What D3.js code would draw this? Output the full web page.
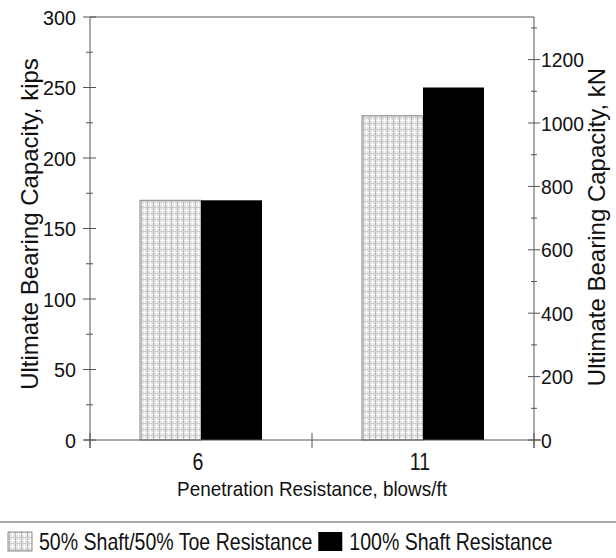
<!DOCTYPE html>
<html>
<head>
<meta charset="utf-8">
<script src="https://cdn.jsdelivr.net/npm/d3@7"></script>
<style>
  html, body { margin: 0; padding: 0; background: #fff; }
  svg { display: block; font-family: "Liberation Sans", Arial, sans-serif; }
</style>
</head>
<body>
<svg id="chart" width="616" height="558"></svg>
<script>
// Penetration resistance categories (blows/ft)
const categories = ["6", "11"];
// Series names as shown in the legend
const seriesNames = ["50% Shaft/50% Toe Resistance", "100% Shaft Resistance"];
// Ultimate bearing capacity, kips
const halfShaftHalfToe = [170, 230];
const fullShaft = [170, 250];
// Axis tick values
const kipsTicks = [0, 50, 100, 150, 200, 250, 300];
const kipsMinorTicks = [25, 75, 125, 175, 225, 275];
const kNTicks = [0, 200, 400, 600, 800, 1000, 1200];
const kNMinorTicks = [100, 300, 500, 700, 900, 1100, 1300];
const KN_PER_KIP = 4.448;

const svg = d3.select("#chart");
const plotLeft = 90, plotRight = 534, plotTop = 17, plotBottom = 440;
const lineColor = "#555555";

// Slightly condensed horizontal text
function condensedText(parent, x, y, sx, size, anchor, str) {
  return parent.append("text")
    .attr("transform", `translate(${x},${y}) scale(${sx},1)`)
    .attr("text-anchor", anchor).attr("font-size", size).attr("fill", "#111")
    .text(str);
}

// Hatched fill: a fine light-grey plaid
const defs = svg.append("defs");
const pat = defs.append("pattern").attr("id", "plaid")
  .attr("patternUnits", "userSpaceOnUse").attr("width", 6).attr("height", 6);
pat.append("rect").attr("width", 6).attr("height", 6).attr("fill", "#e2e2e2");
pat.append("rect").attr("x", 0).attr("y", 0).attr("width", 1).attr("height", 6).attr("fill", "#ffffff");
pat.append("rect").attr("x", 0).attr("y", 0).attr("width", 6).attr("height", 1).attr("fill", "#ffffff");
pat.append("rect").attr("x", 3).attr("y", 0).attr("width", 1).attr("height", 6).attr("fill", "#b8b8b8");
pat.append("rect").attr("x", 0).attr("y", 3).attr("width", 6).attr("height", 1).attr("fill", "#cccccc");

const x0 = d3.scaleBand().domain(categories).range([plotLeft, plotRight]).padding(0);
const x1 = d3.scaleBand().domain(seriesNames).range([0, x0.bandwidth()])
  .paddingInner(0).paddingOuter(0.82);
const yKips = d3.scaleLinear().domain([0, 300]).range([plotBottom, plotTop]);
const yKN = d3.scaleLinear().domain([0, 300 * KN_PER_KIP]).range([plotBottom, plotTop]);

const fills = ["url(#plaid)", "#000000"];
const seriesValues = [halfShaftHalfToe, fullShaft];

// Bars
const groups = svg.append("g").selectAll("g").data(categories).join("g")
  .attr("transform", d => `translate(${x0(d)},0)`);
groups.each(function (cat, ci) {
  const g = d3.select(this);
  seriesNames.forEach((s, si) => {
    const v = seriesValues[si][ci];
    g.append("rect")
      .attr("x", x1(s)).attr("width", x1.bandwidth())
      .attr("y", yKips(v)).attr("height", yKips(0) - yKips(v))
      .attr("fill", fills[si])
      .attr("stroke", si === 0 ? "#8a8a8a" : "none")
      .attr("stroke-width", 1);
  });
});

// Frame top
svg.append("line").attr("x1", plotLeft).attr("x2", plotRight).attr("y1", plotTop).attr("y2", plotTop)
  .attr("stroke", lineColor).attr("stroke-width", 1);

// Left axis (kips)
const axL = svg.append("g").attr("stroke", lineColor);
axL.append("line").attr("x1", plotLeft).attr("x2", plotLeft).attr("y1", plotTop).attr("y2", plotBottom + 8);
axL.selectAll("line.maj").data(kipsTicks).join("line").attr("class", "maj")
  .attr("x1", plotLeft - 7).attr("x2", plotLeft + 6).attr("y1", d => yKips(d)).attr("y2", d => yKips(d));
axL.selectAll("line.min").data(kipsMinorTicks).join("line").attr("class", "min")
  .attr("x1", plotLeft - 4).attr("x2", plotLeft + 3).attr("y1", d => yKips(d)).attr("y2", d => yKips(d));
const gL = svg.append("g");
kipsTicks.forEach(d => condensedText(gL, plotLeft - 14, yKips(d) + 7.5, 0.94, 21, "end", d));

// Right axis (kN)
const axR = svg.append("g").attr("stroke", lineColor);
axR.append("line").attr("x1", plotRight).attr("x2", plotRight).attr("y1", plotTop).attr("y2", plotBottom + 8);
axR.selectAll("line.maj").data(kNTicks).join("line").attr("class", "maj")
  .attr("x1", plotRight - 6).attr("x2", plotRight + 6).attr("y1", d => yKN(d)).attr("y2", d => yKN(d));
axR.selectAll("line.min").data(kNMinorTicks).join("line").attr("class", "min")
  .attr("x1", plotRight - 3).attr("x2", plotRight + 3).attr("y1", d => yKN(d)).attr("y2", d => yKN(d));
const gR = svg.append("g");
kNTicks.forEach(d => condensedText(gR, plotRight + 7, yKN(d) + 7.5, 0.92, 21, "start", d));

// Bottom axis
const axB = svg.append("g").attr("stroke", lineColor);
axB.append("line").attr("x1", plotLeft - 6).attr("x2", plotRight + 7).attr("y1", plotBottom).attr("y2", plotBottom);
const xBoundaries = [plotLeft].concat(categories.map(c => x0(c) + x0.bandwidth()));
axB.selectAll("line.t").data(xBoundaries).join("line").attr("class", "t")
  .attr("x1", d => d).attr("x2", d => d).attr("y1", plotBottom - 7).attr("y2", plotBottom + 8);
const gB = svg.append("g");
categories.forEach(c => condensedText(gB, x0(c) + x0.bandwidth() / 2 - 3, 470, 0.85, 23, "middle", c));

// Axis titles
condensedText(svg, (plotLeft + plotRight) / 2, 496, 0.9, 21, "middle", "Penetration Resistance, blows/ft");
svg.append("text").attr("transform", "translate(38,224) rotate(-90)")
  .attr("text-anchor", "middle").attr("font-size", 24).attr("fill", "#111")
  .text("Ultimate Bearing Capacity, kips");
svg.append("text").attr("transform", "translate(605,227) rotate(-90)")
  .attr("text-anchor", "middle").attr("font-size", 24).attr("fill", "#111")
  .text("Ultimate Bearing Capacity, kN");

// Legend
svg.append("line").attr("x1", 0).attr("x2", 616).attr("y1", 522).attr("y2", 522)
  .attr("stroke", "#a8a8a8").attr("stroke-width", 2);
const legend = svg.append("g");
const legendScaleX = 0.85;
let lx = 8;
seriesNames.forEach((s, i) => {
  legend.append("rect").attr("x", lx).attr("y", 532).attr("width", 24).attr("height", 19)
    .attr("fill", fills[i]).attr("stroke", i === 0 ? "#8a8a8a" : "none");
  const t = condensedText(legend, lx + 31, 550, legendScaleX, 23, "start", s);
  lx = lx + 31 + t.node().getComputedTextLength() * legendScaleX + 6;
});
</script>
</body>
</html>
